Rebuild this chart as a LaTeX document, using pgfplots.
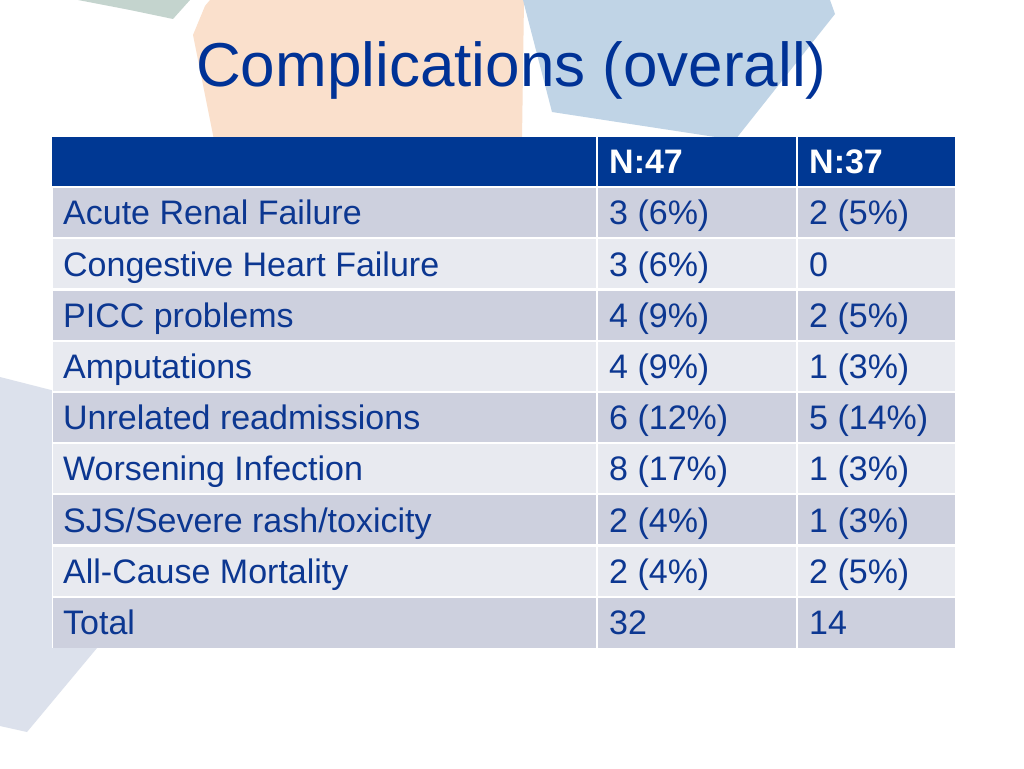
\documentclass[border=0pt]{standalone}
\usepackage{pgfplots}
\pgfplotsset{compat=1.18}
\usepackage{fontspec}
\setmainfont{Liberation Sans}
\definecolor{hdr}{RGB}{0,56,147}
\definecolor{txt}{RGB}{12,55,145}
\definecolor{ttl}{RGB}{0,50,150}
\definecolor{rowdark}{RGB}{205,208,222}
\definecolor{rowlight}{RGB}{232,234,240}
\definecolor{shgreen}{RGB}{196,212,206}
\definecolor{shpeach}{RGB}{250,224,204}
\definecolor{shblue}{RGB}{192,212,230}
\definecolor{shgrey}{RGB}{220,225,236}
\begin{document}
\begin{tikzpicture}
\begin{axis}[width=1024bp,height=768bp,scale only axis,
  xmin=0,xmax=1024,ymin=0,ymax=768,y dir=reverse,hide axis,clip=true]
% background
\addplot[fill=white,draw=none] coordinates {(0,0)(1024,0)(1024,768)(0,768)};
\addplot[fill=shgreen,draw=none] coordinates {(78,0)(190,0)(173,19)(130,10)};
\addplot[fill=shpeach,draw=none] coordinates {(210,0)(524,0)(522,140)(214,140)(193,35)(205,6)};
\addplot[fill=shblue,draw=none] coordinates {(523,0)(830,0)(835,14)(735,140)(552,112)};
\addplot[fill=shgrey,draw=none] coordinates {(0,377)(55,391)(55,648)(97,648)(27,732)(0,726)};
% header
\addplot[fill=hdr,draw=none] coordinates {(52,137)(955,137)(955,187)(52,187)};
% rows
\addplot[fill=rowdark,draw=none]  coordinates {(52,187)(955,187)(955,238.2)(52,238.2)};
\addplot[fill=rowlight,draw=none] coordinates {(52,238.2)(955,238.2)(955,289.4)(52,289.4)};
\addplot[fill=rowdark,draw=none]  coordinates {(52,289.4)(955,289.4)(955,340.6)(52,340.6)};
\addplot[fill=rowlight,draw=none] coordinates {(52,340.6)(955,340.6)(955,391.8)(52,391.8)};
\addplot[fill=rowdark,draw=none]  coordinates {(52,391.8)(955,391.8)(955,443)(52,443)};
\addplot[fill=rowlight,draw=none] coordinates {(52,443)(955,443)(955,494.2)(52,494.2)};
\addplot[fill=rowdark,draw=none]  coordinates {(52,494.2)(955,494.2)(955,545.4)(52,545.4)};
\addplot[fill=rowlight,draw=none] coordinates {(52,545.4)(955,545.4)(955,596.6)(52,596.6)};
\addplot[fill=rowdark,draw=none]  coordinates {(52,596.6)(955,596.6)(955,647.8)(52,647.8)};
% white separators
\addplot[white,line width=2.4bp] coordinates {(52,187)(955,187)};
\addplot[white,line width=2.2bp] coordinates {(52,238.2)(955,238.2)};
\addplot[white,line width=2.2bp] coordinates {(52,289.4)(955,289.4)};
\addplot[white,line width=2.2bp] coordinates {(52,340.6)(955,340.6)};
\addplot[white,line width=2.2bp] coordinates {(52,391.8)(955,391.8)};
\addplot[white,line width=2.2bp] coordinates {(52,443)(955,443)};
\addplot[white,line width=2.2bp] coordinates {(52,494.2)(955,494.2)};
\addplot[white,line width=2.2bp] coordinates {(52,545.4)(955,545.4)};
\addplot[white,line width=2.2bp] coordinates {(52,596.6)(955,596.6)};
\addplot[white,line width=2.2bp] coordinates {(597,137)(597,647.8)};
\addplot[white,line width=2.2bp] coordinates {(797,137)(797,647.8)};
\addplot[white,line width=1.2bp] coordinates {(52.3,187)(52.3,647.8)};
% title
\node[anchor=base,inner sep=0,text=ttl,font=\fontsize{62bp}{70bp}\selectfont] at (axis cs:511.5,87) {Complications (overall)};
% header text
\tikzset{cell/.style={anchor=base west,inner sep=0,text=txt,font=\fontsize{34bp}{40bp}\selectfont}}
\node[cell,text=white,font=\fontsize{34bp}{40bp}\bfseries] at (axis cs:609,173) {N:47};
\node[cell,text=white,font=\fontsize{34bp}{40bp}\bfseries] at (axis cs:809,173) {N:37};
% rows text
\node[cell] at (axis cs:63,224.9) {Acute Renal Failure};
\node[cell] at (axis cs:609,224.9) {3 (6\%)};
\node[cell] at (axis cs:809,224.9) {2 (5\%)};
\node[cell] at (axis cs:63,276.1) {Congestive Heart Failure};
\node[cell] at (axis cs:609,276.1) {3 (6\%)};
\node[cell] at (axis cs:809,276.1) {0};
\node[cell] at (axis cs:63,327.3) {PICC problems};
\node[cell] at (axis cs:609,327.3) {4 (9\%)};
\node[cell] at (axis cs:809,327.3) {2 (5\%)};
\node[cell] at (axis cs:63,378.5) {Amputations};
\node[cell] at (axis cs:609,378.5) {4 (9\%)};
\node[cell] at (axis cs:809,378.5) {1 (3\%)};
\node[cell] at (axis cs:63,429.7) {Unrelated readmissions};
\node[cell] at (axis cs:609,429.7) {6 (12\%)};
\node[cell] at (axis cs:809,429.7) {5 (14\%)};
\node[cell] at (axis cs:63,480.9) {Worsening Infection};
\node[cell] at (axis cs:609,480.9) {8 (17\%)};
\node[cell] at (axis cs:809,480.9) {1 (3\%)};
\node[cell] at (axis cs:63,532.1) {SJS/Severe rash/toxicity};
\node[cell] at (axis cs:609,532.1) {2 (4\%)};
\node[cell] at (axis cs:809,532.1) {1 (3\%)};
\node[cell] at (axis cs:63,583.3) {All-Cause Mortality};
\node[cell] at (axis cs:609,583.3) {2 (4\%)};
\node[cell] at (axis cs:809,583.3) {2 (5\%)};
\node[cell] at (axis cs:63,634.5) {Total};
\node[cell] at (axis cs:609,634.5) {32};
\node[cell] at (axis cs:809,634.5) {14};
\end{axis}
\end{tikzpicture}
\end{document}
